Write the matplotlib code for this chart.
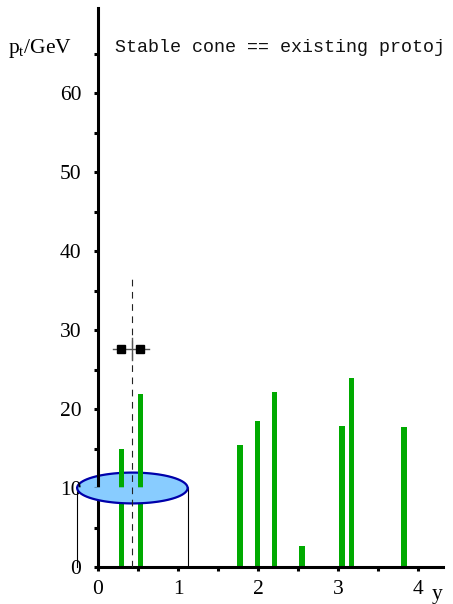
import numpy as np
import matplotlib.pyplot as plt

plt.rcParams['font.family'] = ['Liberation Serif', 'DejaVu Serif']
plt.rcParams['mathtext.fontset'] = 'custom'
plt.rcParams['mathtext.rm'] = 'Liberation Serif'

# particles: rapidity and pt
jet_y = [0.29, 0.53, 1.775, 1.99, 2.21, 2.55, 3.05, 3.17, 3.825]
jet_pt = [14.9, 21.9, 15.4, 18.5, 22.1, 2.6, 17.8, 23.9, 17.7]

# stable cone
cone_y = 0.43
cone_R = 0.69
cone_pt = 36.8
# protojet marker
proto_y = [0.29, 0.53]
proto_pt = 27.6

xticks = np.arange(0, 4.01, 0.5)
xlabels = ['0', '', '1', '', '2', '', '3', '', '4']
yticks = np.arange(0, 66, 5)
ylabels = ['0', '', '10', '', '20', '', '30', '', '40', '', '50', '', '60', '']

fig = plt.figure(figsize=(4.53, 6.04), dpi=100)
ax = fig.add_axes([0, 0, 1, 1])
ax.set_xlim(-98 / 80, 355 / 80)
ax.set_ylim(-37 / 7.9, 567 / 7.9)
ax.patch.set_visible(False)

# back half of the cone
t = np.linspace(0, np.pi, 100)
ax.fill(cone_y + cone_R * np.cos(t), 10 + 1.95 * np.sin(t), color='#88ccff', zorder=1)
ax.plot(cone_y + cone_R * np.cos(t), 10 + 1.95 * np.sin(t), color='#0000aa', lw=1.6, zorder=1)
ax.plot([cone_y - cone_R] * 2, [0, 10], color='black', lw=0.8, zorder=1)
ax.plot([cone_y + cone_R] * 2, [0, 10], color='black', lw=0.8, zorder=1)

ax.bar(jet_y, jet_pt, width=0.067, color='#00aa00', zorder=2)

# front half of the cone
t = np.linspace(np.pi, 2 * np.pi, 100)
ax.fill(cone_y + cone_R * np.cos(t), 10 + 1.95 * np.sin(t), color='#88ccff', zorder=3)
ax.plot(cone_y + cone_R * np.cos(t), 10 + 1.95 * np.sin(t), color='#0000aa', lw=1.6, zorder=3)

ax.plot([cone_y, cone_y], [0, cone_pt], color='#222222', lw=0.8, ls=(0, (6, 5)), zorder=4)
ax.plot([cone_y - 0.24, cone_y + 0.21], [proto_pt, proto_pt], color='#555555', lw=1, zorder=4)
ax.plot([cone_y, cone_y], [proto_pt - 1.4, proto_pt + 1.4], color='#555555', lw=1, zorder=4)
ax.plot(proto_y, [proto_pt] * 2, 's', color='black', ms=5.5, ls='none', zorder=5)

for s in ['top', 'right']:
    ax.spines[s].set_visible(False)
ax.spines['left'].set_position(('data', 0))
ax.spines['bottom'].set_position(('data', 0))
ax.spines['left'].set_bounds(0, 70.8)
ax.spines['bottom'].set_bounds(0, 4.31)
ax.spines['left'].set_linewidth(2.2)
ax.spines['bottom'].set_linewidth(2.2)
ax.spines['left'].set_zorder(2.5)
ax.spines['bottom'].set_zorder(2.5)

ax.set_xticks(xticks, xlabels)
ax.set_yticks(yticks, ylabels)
ax.tick_params(axis='both', direction='out', length=3, width=2.2, labelsize=15.5)
ax.tick_params(axis='y', pad=9)
ax.tick_params(axis='x', pad=6)

fig.text(8 / 453, 1 - 48 / 604, r'p$_\mathrm{t}$/GeV', fontsize=15.5, va='center', ha='left')
fig.text(437 / 453, 1 - 594 / 604, 'y', fontsize=15.5, va='center', ha='center')
fig.text(115 / 453, 1 - 48 / 604, 'Stable cone == existing protoj',
         family='Liberation Mono', fontsize=13.2, color='#111111', va='center', ha='left')

fig.savefig('out.png', dpi=100)
